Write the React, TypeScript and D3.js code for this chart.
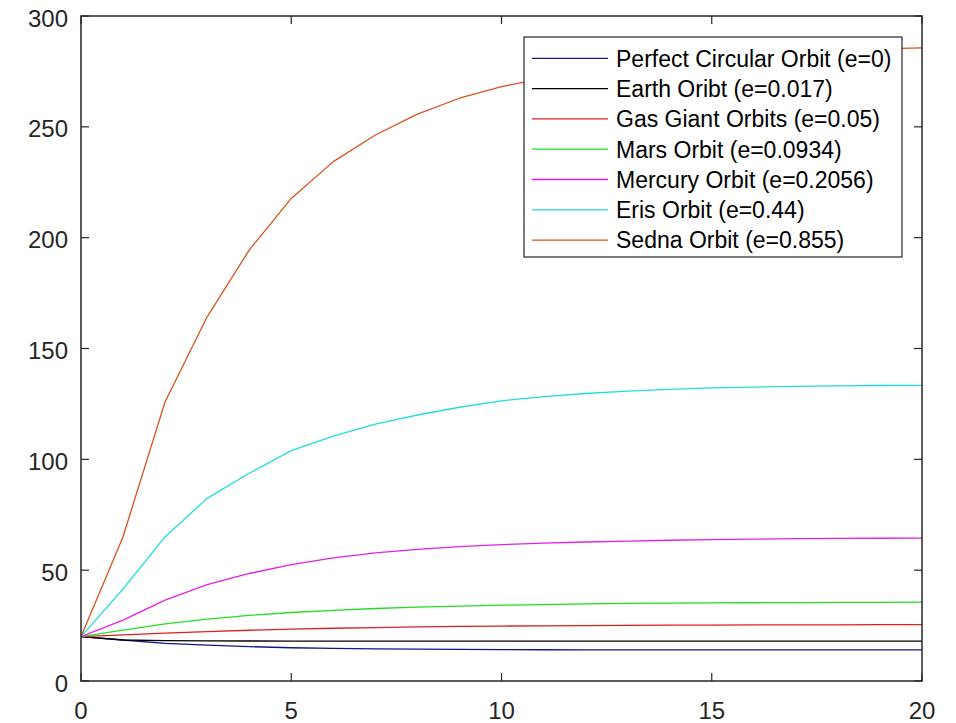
import React from "react";
import * as d3 from "d3";

const xs = d3.range(0, 21);

const seriesNames = [
  "Perfect Circular Orbit (e=0)",
  "Earth Oribt (e=0.017)",
  "Gas Giant Orbits (e=0.05)",
  "Mars Orbit (e=0.0934)",
  "Mercury Orbit (e=0.2056)",
  "Eris Orbit (e=0.44)",
  "Sedna Orbit (e=0.855)",
];

const seriesColors = ["#14148c", "#000000", "#dd1f1f", "#22dd22", "#e61fe6", "#22dddd", "#d9531e"];

const circular = [20, 18.5, 17.0, 16.2, 15.5, 15.0, 14.7, 14.5, 14.35, 14.25, 14.15, 14.1, 14.05, 14.0, 14.0, 14.0, 14.0, 14.0, 14.0, 14.0, 14.0];
const earth = [20, 18.5, 18.2, 18.1, 18.05, 18.0, 18.0, 18.0, 18.0, 18.0, 18.0, 18.0, 18.0, 18.0, 18.0, 18.0, 18.0, 18.0, 18.0, 18.0, 18.0];
const gasGiant = [20, 20.8, 21.6, 22.3, 22.9, 23.4, 23.8, 24.1, 24.4, 24.6, 24.8, 24.9, 25.0, 25.1, 25.2, 25.2, 25.3, 25.3, 25.3, 25.4, 25.4];
const mars = [20, 23.0, 25.8, 27.9, 29.6, 30.9, 31.9, 32.7, 33.3, 33.8, 34.2, 34.5, 34.8, 35.0, 35.1, 35.2, 35.3, 35.4, 35.5, 35.5, 35.6];
const mercury = [20, 27.5, 36.5, 43.5, 48.5, 52.5, 55.5, 57.8, 59.4, 60.6, 61.5, 62.2, 62.7, 63.1, 63.5, 63.8, 64.0, 64.2, 64.3, 64.4, 64.5];
const eris = [20, 41.5, 65.1, 82.4, 93.7, 103.9, 110.5, 115.9, 120.0, 123.5, 126.4, 128.3, 129.7, 130.8, 131.6, 132.2, 132.6, 132.9, 133.1, 133.3, 133.4];
const sedna = [20, 65.1, 126.0, 164.3, 194.4, 217.7, 234.3, 246.3, 255.7, 262.9, 268.1, 272.0, 275.5, 278.2, 280.3, 281.9, 283.1, 284.0, 284.7, 285.2, 285.6];

const seriesValues = [circular, earth, gasGiant, mars, mercury, eris, sedna];

const xTicks = [0, 5, 10, 15, 20];
const yTicks = [0, 50, 100, 150, 200, 250, 300];

const W = 956;
const H = 723;
const left = 81;
const right = 922;
const top = 16;
const bottom = 681;

export default function App() {
  const x = d3.scaleLinear().domain([0, 20]).range([left, right]);
  const y = d3.scaleLinear().domain([0, 300]).range([bottom, top]);
  const line = d3
    .line<number>()
    .x((_, i) => x(xs[i]))
    .y((d) => y(d));

  const axisColor = "#262626";
  const font = "'Liberation Sans', Arial, Helvetica, sans-serif";
  const tickLen = 8;

  const legX0 = 524;
  const legY0 = 37;
  const legX1 = 902;
  const legY1 = 257;
  const rowY0 = 58.3;
  const rowStep = 30.3;

  return (
    <svg
      width={W}
      height={H}
      style={{ position: "absolute", left: 0, top: 0, background: "#fff" }}
    >
      <rect x={0} y={0} width={W} height={H} fill="#fff" />
      <defs>
        <clipPath id="plotclip">
          <rect x={left} y={top} width={right - left} height={bottom - top} />
        </clipPath>
      </defs>
      <g clipPath="url(#plotclip)">
        {seriesValues.map((vals, i) => (
          <path
            key={i}
            d={line(vals) || ""}
            fill="none"
            stroke={seriesColors[i]}
            strokeWidth={1.3}
            strokeLinejoin="round"
          />
        ))}
      </g>
      {/* ticks */}
      {xTicks.map((t) => (
        <g key={"xt" + t}>
          <line x1={x(t)} x2={x(t)} y1={bottom} y2={bottom - tickLen} stroke={axisColor} strokeWidth={1.2} />
          <line x1={x(t)} x2={x(t)} y1={top} y2={top + tickLen} stroke={axisColor} strokeWidth={1.2} />
          <text
            x={x(t)}
            y={bottom + 38}
            textAnchor="middle"
            fontFamily={font}
            fontSize={24}
            fill={axisColor}
          >
            {t}
          </text>
        </g>
      ))}
      {yTicks.map((t) => (
        <g key={"yt" + t}>
          <line x1={left} x2={left + tickLen} y1={y(t)} y2={y(t)} stroke={axisColor} strokeWidth={1.2} />
          <line x1={right} x2={right - tickLen} y1={y(t)} y2={y(t)} stroke={axisColor} strokeWidth={1.2} />
          <text
            x={68}
            y={y(t) + 10.5}
            textAnchor="end"
            fontFamily={font}
            fontSize={24}
            fill={axisColor}
          >
            {t}
          </text>
        </g>
      ))}
      {/* box */}
      <rect
        x={left}
        y={top}
        width={right - left}
        height={bottom - top}
        fill="none"
        stroke={axisColor}
        strokeWidth={1.5}
      />
      {/* legend */}
      <rect
        x={legX0}
        y={legY0}
        width={legX1 - legX0}
        height={legY1 - legY0}
        fill="#fff"
        stroke={axisColor}
        strokeWidth={1.2}
      />
      {seriesNames.map((name, i) => {
        const cy = rowY0 + i * rowStep;
        return (
          <g key={"lg" + i}>
            <line x1={532} x2={608} y1={cy} y2={cy} stroke={seriesColors[i]} strokeWidth={1.3} />
            <text
              x={616}
              y={cy + 8.3}
              fontFamily={font}
              fontSize={23}
              fill="#000"
            >
              {name}
            </text>
          </g>
        );
      })}
    </svg>
  );
}
